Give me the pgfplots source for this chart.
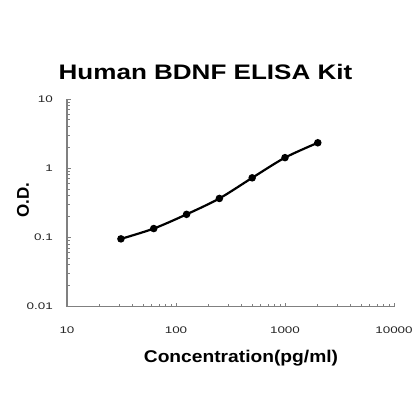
\documentclass[border=0pt]{standalone}
\usepackage{fontspec}
\setmainfont{Liberation Sans}
\newfontfamily\tickfont[FakeStretch=1.4]{Liberation Sans}
\newfontfamily\titlefont[FakeStretch=1.24]{Liberation Sans}
\newfontfamily\labfont[FakeStretch=1.13]{Liberation Sans}
\usepackage{pgfplots}
\pgfplotsset{compat=1.18}
\usetikzlibrary{calc}
\definecolor{axgray}{RGB}{128,128,128}
\begin{document}
\begin{tikzpicture}
\begin{axis}[
  scale only axis,
  width=327pt, height=207.5pt,
  xmode=log, ymode=log,
  xmin=10, xmax=10000, ymin=0.01, ymax=10,
  axis x line*=bottom, axis y line*=left,
  axis line style={-, draw=axgray, line width=1.1pt},
  every tick/.style={draw=axgray, line width=0.8pt},
  tick align=inside,
  major tick length=4pt, minor tick length=3pt,
  xtick={10,100,1000,10000}, xticklabels={10,100,1000,10000},
  ytick={0.01,0.1,1,10}, yticklabels={0.01,0.1,1,10},
  xticklabel style={anchor=base, inner sep=0pt, yshift=-27pt,
    font=\tickfont\fontsize{9.6}{11}\selectfont, text=black!85},
  yticklabel style={anchor=east, inner sep=0pt, xshift=-14pt,
    font=\tickfont\fontsize{9.6}{11}\selectfont, text=black!85},
  clip=false,
]
\addplot[black, line width=2.2pt, smooth, mark=*, mark size=2.6pt]
  coordinates {(31.25,0.095) (62.5,0.134) (125,0.215) (250,0.365)
               (500,0.725) (1000,1.42) (2000,2.33)};
\coordinate (sw) at (rel axis cs:0,0);
\end{axis}
\node[anchor=base, inner sep=0pt, font=\titlefont\bfseries\fontsize{21}{25}\selectfont]
  at ($(sw)+(138.5pt,226.5pt)$) {Human BDNF ELISA Kit};
\node[anchor=base, inner sep=0pt, font=\labfont\bfseries\fontsize{17}{20}\selectfont]
  at ($(sw)+(174pt,-55.5pt)$) {Concentration(pg/ml)};
\node[anchor=center, rotate=90, inner sep=0pt, font=\bfseries\fontsize{17}{20}\selectfont]
  at ($(sw)+(-44pt,106.5pt)$) {O.D.};
\pgfresetboundingbox
\path ($(sw)+(-67pt,-113.5pt)$) rectangle ($(sw)+(353pt,306.5pt)$);
\end{tikzpicture}
\end{document}
